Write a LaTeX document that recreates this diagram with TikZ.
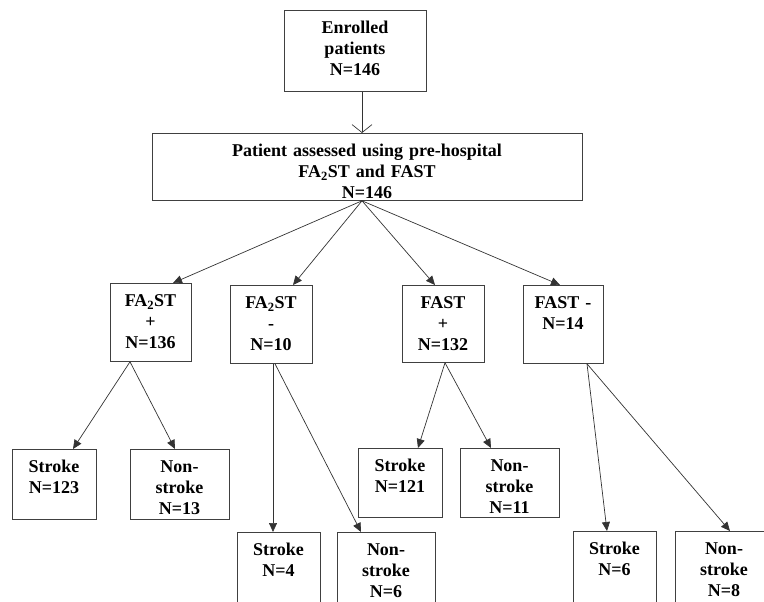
\documentclass[tikz,border=0pt]{standalone}
\usepackage{fontspec}
\setmainfont{Liberation Serif}
\usetikzlibrary{arrows.meta}

\tikzset{
  box/.style 2 args={draw=black!75, line width=0.8pt, anchor=north, align=center,
    inner sep=0pt, text width=#1, text height=23.5pt, text depth=#2,
    font=\fontsize{18}{21}\selectfont\bfseries},
  link/.style={draw=black!80, line width=0.7pt, -{Triangle[length=9pt,width=8pt]}},
}

\begin{document}
\begin{tikzpicture}[x=1pt, y=-1pt]
  \path[use as bounding box, clip] (0,0) rectangle (764,602);

  % top
  \node[box={142pt}{57.5pt}] (enr) at (355,10) {Enrolled\\patients\\N=146};
  \node[box={430pt}{43.5pt}] (both) at (367,133) {Patient assessed using pre-hospital\\FA\textsubscript{2}ST and FAST\\N=146};

  % screening result
  \node[box={81pt}{54.5pt}] (fa2pos) at (150.5,283) {FA\textsubscript{2}ST\\+\\N=136};
  \node[box={82pt}{54.5pt}] (fa2neg) at (271,285) {FA\textsubscript{2}ST\\-\\N=10};
  \node[box={82pt}{53.5pt}] (fastpos) at (443,285) {FAST\\+\\N=132};
  \node[box={80pt}{54.5pt}] (fastneg) at (563,285) {FAST -\\N=14};

  % final diagnosis
  \node[box={84pt}{46.5pt}] (fa2pos-s) at (54,449) {Stroke\\N=123};
  \node[box={99pt}{46.5pt}] (fa2pos-ns) at (179.5,449) {Non-\\stroke\\N=13};
  \node[box={83pt}{66.5pt}] (fa2neg-s) at (278.5,532) {Stroke\\N=4};
  \node[box={98pt}{66.5pt}] (fa2neg-ns) at (386,532) {Non-\\stroke\\N=6};
  \node[box={84pt}{45.5pt}] (fastpos-s) at (400,448) {Stroke\\N=121};
  \node[box={99pt}{45.5pt}] (fastpos-ns) at (509.5,448) {Non-\\stroke\\N=11};
  \node[box={83pt}{66.5pt}] (fastneg-s) at (614.5,531) {Stroke\\N=6};
  \node[box={98pt}{66.5pt}] (fastneg-ns) at (724,531) {Non-\\stroke\\N=8};

  \draw[draw=black!80, line width=0.7pt, -{Straight Barb[length=8pt,width=20pt]}]
    ([xshift=7pt]enr.south) -- ([xshift=7pt]enr.south |- both.north);

  \draw[link] ([xshift=-5pt]both.south) -- ([xshift=22.5pt]fa2pos.north);
  \draw[link] ([xshift=-5pt]both.south) -- ([xshift=22pt]fa2neg.north);
  \draw[link] ([xshift=-5pt]both.south) -- ([xshift=-8pt]fastpos.north);
  \draw[link] ([xshift=-5pt]both.south) -- ([xshift=-3pt]fastneg.north);

  \draw[link] ([xshift=-20.5pt]fa2pos.south) -- ([xshift=19pt]fa2pos-s.north);
  \draw[link] ([xshift=-20.5pt]fa2pos.south) -- ([xshift=-4.5pt]fa2pos-ns.north);
  \draw[link] ([xshift=2pt]fa2neg.south) -- ([xshift=-5.5pt]fa2neg-s.north);
  \draw[link] ([xshift=4pt]fa2neg.south) -- ([xshift=-25pt]fa2neg-ns.north);
  \draw[link] ([xshift=2pt]fastpos.south) -- ([xshift=18pt]fastpos-s.north);
  \draw[link] ([xshift=2pt]fastpos.south) -- ([xshift=-18.5pt]fastpos-ns.north);
  \draw[link] ([xshift=24pt]fastneg.south) -- ([xshift=-7.5pt]fastneg-s.north);
  \draw[link] ([xshift=24pt]fastneg.south) -- ([xshift=6pt]fastneg-ns.north);
\end{tikzpicture}
\end{document}
